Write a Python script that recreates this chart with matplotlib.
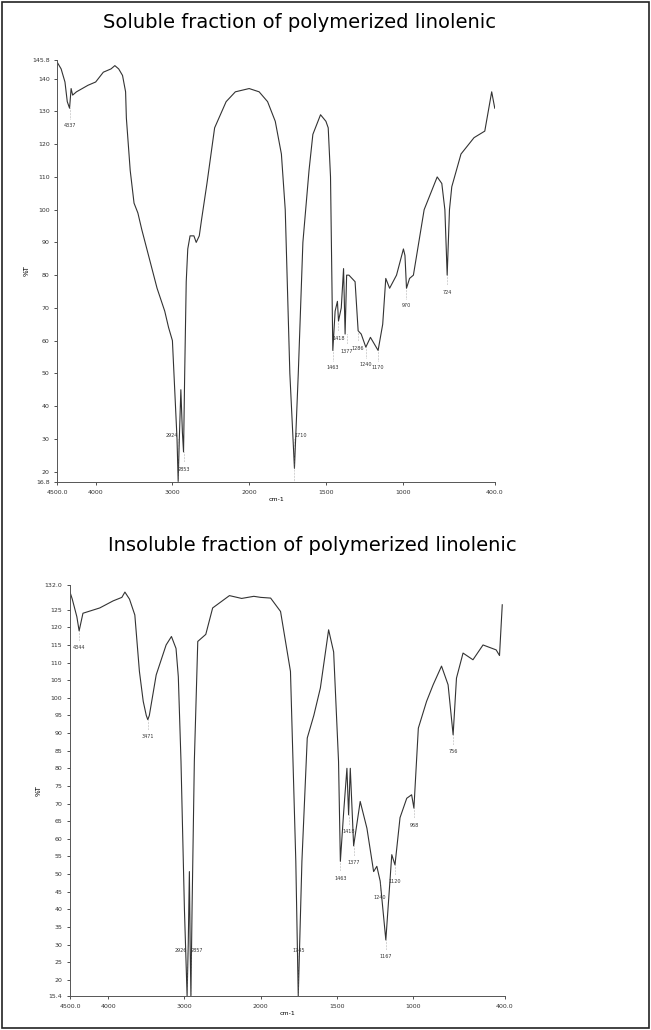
import numpy as np
import matplotlib
matplotlib.use('Agg')
import matplotlib.pyplot as plt

# Soluble fraction: wavenumber (cm-1) and %T
sol_w = [4500, 4450, 4400, 4370, 4340, 4320, 4300, 4250, 4100, 4000, 3900, 3800, 3750, 3700, 3650,
         3610, 3600, 3550, 3500, 3450, 3400, 3300, 3200, 3100, 3050, 3000, 2970, 2940, 2925, 2910,
         2890, 2870, 2855, 2840, 2820, 2800, 2770, 2720, 2690, 2650, 2620, 2550, 2450, 2300, 2180,
         2000, 1935, 1880, 1830, 1790, 1765, 1735, 1705, 1680, 1650, 1610, 1585, 1535, 1500, 1485,
         1470, 1455, 1440, 1425, 1418, 1400, 1385, 1375, 1365, 1350, 1310, 1290, 1270, 1255, 1240,
         1210, 1185, 1160, 1130, 1110, 1085, 1040, 995, 985, 975, 955, 930, 860, 775, 745, 725,
         710, 695, 680, 620, 535, 465, 420, 400]
sol_t = [145, 143, 139, 133, 131, 137, 135, 136, 138, 139, 142, 143, 144, 143, 141,
         136, 128, 112, 102, 99, 94, 85, 76, 69, 64, 60, 45, 30, 17, 30,
         45, 32, 26, 50, 78, 88, 92, 92, 90, 92, 97, 108, 125, 133, 136,
         137, 136, 133, 127, 117, 100, 50, 21, 50, 90, 112, 123, 129, 127, 125,
         110, 57, 69, 72, 66, 70, 82, 62, 80, 80, 78, 63, 62, 60, 58,
         61, 59, 57, 65, 79, 76, 80, 88, 86, 76, 79, 80, 100, 110, 108, 100,
         80, 100, 107, 117, 122, 124, 136, 131]

# Insoluble fraction
ins_w = [4500, 4470, 4410, 4380, 4330, 4110, 3935, 3820, 3780, 3720, 3650, 3590, 3540, 3500,
         3480, 3460, 3370, 3240, 3170, 3110, 3080, 3045, 3000, 2965, 2950, 2935, 2925, 2915, 2900,
         2870, 2825, 2720, 2630, 2410, 2250, 2090, 2000, 1935, 1870, 1805, 1770, 1754, 1730, 1695,
         1652, 1609, 1555, 1522, 1490, 1478, 1456, 1435, 1424, 1413, 1391, 1348, 1304, 1260, 1239,
         1217, 1180, 1141, 1120, 1087, 1043, 1011, 996, 967, 913, 870, 815, 772, 739, 717,
         674, 609, 543, 457, 435, 417]
ins_t = [130, 128, 123, 119, 124, 125.5, 127.5, 128.5, 130, 128, 123.5, 107.5, 99, 95,
         93.8, 95, 106.5, 115, 117.4, 114, 106, 82, 40, 15.4, 30, 50.7, 30, 15.4, 40,
         82, 116, 118, 125.5, 129, 128.2, 128.8, 128.5, 128.3, 124.5, 107.5, 53.6, 15.4, 53.6, 88.6,
         95, 102.8, 119.3, 113, 82, 53.6, 67.8, 80, 66.8, 80, 58, 70.6, 63, 50.7, 52.2,
         48, 31.3, 55.5, 52.6, 66, 71.5, 72.5, 68.7, 91.4, 99, 103.7, 109, 103.7, 89.5, 105.6,
         112.7, 110.8, 115, 113.6, 112, 126.4]

sol_peaks = [(4340, 131, '4337'), (2925, 17, '2924'), (2855, 26, '2853'), (1705, 21, '1710'),
             (1455, 57, '1463'), (1418, 66, '1418'), (1365, 62, '1377'), (1290, 63, '1286'),
             (1240, 58, '1240'), (1160, 57, '1170'), (975, 76, '970'), (710, 80, '724')]
ins_peaks = [(4380, 119, '4344'), (3480, 93.8, '3471'), (2965, 15.4, '2926'), (2915, 15.4, '2857'),
             (1754, 15.4, '1745'), (1478, 53.6, '1463'), (1424, 66.8, '1418'), (1391, 58, '1377'),
             (1217, 48, '1240'), (1180, 31.3, '1167'), (1120, 52.6, '1120'), (996, 68.7, '968'),
             (739, 89.5, '756')]

sol_yticks = [20, 30, 40, 50, 60, 70, 80, 90, 100, 110, 120, 130, 140]
ins_yticks = list(range(20, 130, 5))
x_ticks = [4500, 4000, 3000, 2000, 1500, 1000, 400]
x_labels = ['4500.0', '4000', '3000', '2000', '1500', '1000', '400.0']


# piecewise wavenumber axis: scale doubles below 2000 cm-1 (increasing in w)
def fwd(w):
    w = np.asarray(w, dtype=float)
    return -np.where(w >= 2000, (4500 - w) / 1000, 2.5 + (2000 - w) / 500)


def inv(v):
    u = -np.asarray(v, dtype=float)
    return np.where(u <= 2.5, 4500 - u * 1000, 2000 - (u - 2.5) * 500)


def draw(ax, w, t, peaks, yticks, ylim):
    ax.plot(w, t, color='#333333', lw=0.8)
    ax.set_xscale('function', functions=(fwd, inv))
    ax.set_xlim(4500, 400)
    ax.set_ylim(*ylim)
    ax.set_xticks(x_ticks)
    ax.set_xticklabels(x_labels)
    ax.set_yticks([ylim[0]] + yticks + [ylim[1]])
    ax.set_yticklabels([f'{ylim[0]:.1f}'] + [str(v) for v in yticks] + [f'{ylim[1]:.1f}'])
    ax.tick_params(labelsize=4.5, length=2, width=0.6, colors='#333333')
    for s in ['top', 'right']:
        ax.spines[s].set_visible(False)
    for s in ['left', 'bottom']:
        ax.spines[s].set_linewidth(0.7)
        ax.spines[s].set_color('#555555')
    ax.set_ylabel('%T', fontsize=5, rotation=90, labelpad=2)
    ax.set_xlabel('cm-1', fontsize=4.5, labelpad=2)
    dy = (ylim[1] - ylim[0]) * 0.035
    low = 0
    for pw, pt, lab in peaks:
        if pt - 1.5 * dy < ylim[0]:
            ly = ylim[0] + 3 * dy
            ha = ['right', 'left', 'center'][low % 3] if lab != '1745' else 'center'
            low += 1
            ax.plot([pw, pw], [ylim[0], ly], color='#777777', lw=0.4, ls=':')
            ax.text(pw, ly, lab, fontsize=3.5, ha=ha, va='bottom', color='#333333')
        else:
            ax.plot([pw, pw], [pt, pt - dy * 0.7], color='#777777', lw=0.4, ls=':')
            ax.text(pw, pt - dy, lab, fontsize=3.5, ha='center', va='top', color='#333333')


fig = plt.figure(figsize=(6.51, 10.30), dpi=100)
fig.patches.append(plt.Rectangle((0.003, 0.002), 0.994, 0.996, transform=fig.transFigure,
                                 fill=False, ec='#222222', lw=1.2))

ax1 = fig.add_axes([0.088, 0.532, 0.672, 0.41])
draw(ax1, sol_w, sol_t, sol_peaks, sol_yticks, (16.8, 145.8))
fig.text(0.46, 0.978, 'Soluble fraction of polymerized linolenic', ha='center', va='center', fontsize=14)

ax2 = fig.add_axes([0.1075, 0.033, 0.668, 0.399])
draw(ax2, ins_w, ins_t, ins_peaks, ins_yticks, (15.4, 132.0))
fig.text(0.48, 0.47, 'Insoluble fraction of polymerized linolenic', ha='center', va='center', fontsize=14)

fig.savefig('out.png', dpi=100, facecolor='white')
